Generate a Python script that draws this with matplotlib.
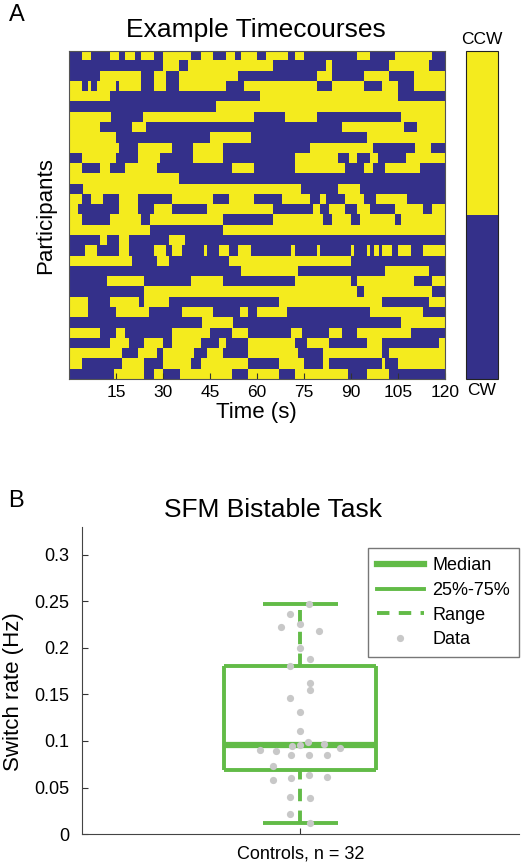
import numpy as np
import matplotlib
matplotlib.use("Agg")
import matplotlib.pyplot as plt
from matplotlib.colors import ListedColormap
from matplotlib.lines import Line2D

plt.rcParams['font.family'] = ['Liberation Sans', 'DejaVu Sans']

# --- panel A: percept per participant (1 = CCW / yellow, 0 = CW / blue) ---
start_ccw = [0, 0, 0, 1, 1, 0, 1, 1, 1, 1, 0, 1, 1, 0, 1, 1,
             1, 1, 0, 0, 1, 0, 0, 0, 1, 1, 0, 1, 0, 1, 1, 0]

# times (s) at which the percept flips, one list per participant
switch_s = [
    [4, 7, 13, 16, 18, 21, 23, 27, 30, 39, 42, 46, 50, 53, 55, 60, 63, 70, 72, 75, 92, 96, 104, 116],
    [30, 35, 38, 65, 82, 84, 102, 115],
    [10, 23, 27, 31, 35, 54, 79, 84, 94, 102, 110],
    [4, 6, 7, 9, 15, 16, 23, 27, 31, 35, 50, 56, 79, 84, 94, 100, 105, 110],
    [13, 61, 105],
    [47],
    [13.5, 23.5, 59, 69, 79, 106],
    [10, 20, 24.5, 87, 107, 111],
    [15, 45, 58, 95],
    [16, 22, 33, 39.5, 49, 77, 97, 110.5, 115.5],
    [4, 15, 22, 29, 39.5, 49, 72, 86, 89.5, 92, 96, 98.5, 107.5],
    [4, 10, 13, 18, 28, 52, 59, 72, 88, 94, 97, 101, 112],
    [35],
    [4.5, 74, 86, 93],
    [4, 7, 11, 16, 22, 33, 46, 51, 59, 68, 77, 80, 82, 88, 94, 98, 108],
    [3, 16, 22, 27, 33, 44, 65, 78, 80, 83, 88, 92, 96, 104, 113, 116],
    [4, 13, 23, 26, 49, 65, 81, 84, 90, 93, 104, 106],
    [26, 49],
    [10, 12, 16, 19, 32, 37],
    [5, 9, 16, 19, 27, 31, 33, 36, 43, 44, 48, 51, 54, 58, 71, 72, 79, 80, 90, 91,
     95, 96, 97.5, 99, 100, 103, 105, 109, 113],
    [20, 28, 32, 51, 90],
    [55, 73, 101, 115],
    [12, 24, 39, 49, 72, 90, 92, 110, 116],
    [24, 92, 94, 116],
    [6, 13, 22.5, 24, 32, 67, 100, 115],
    [6, 15, 25.5, 36, 46, 54.5, 57, 60, 69.5, 96, 113],
    [42.5, 52.5, 106],
    [10, 15, 18, 33, 45, 52, 57, 71, 74.5, 83, 87, 92, 109],
    [13, 19, 24, 30, 33, 42, 48, 50, 57, 72, 76, 83, 95, 100, 118],
    [17, 22, 28, 30, 40, 44, 49, 57, 73, 81, 100, 102],
    [4, 17, 24, 30, 39, 42, 57, 67, 75, 81, 83, 100, 101, 105],
    [14.5, 24, 27, 30, 35.5, 52, 57, 67, 72, 89, 95, 102],
]
time_ticks = [15, 30, 45, 60, 75, 90, 105, 120]

# --- panel B: switch rates ---
switch_rate = [0.2474, 0.2366, 0.2230, 0.2252, 0.2184, 0.2001, 0.1883, 0.1811,
               0.1618, 0.1547, 0.1457, 0.1314, 0.1103, 0.0992, 0.0963, 0.0949,
               0.0920, 0.0902, 0.0891, 0.0848, 0.0848, 0.0848, 0.0734, 0.0584,
               0.0601, 0.0634, 0.0616, 0.0394, 0.0383, 0.0215, 0.0118, 0.0955]
jitter = [0.041, -0.047, -0.089, 0.0, 0.084, 0.0, 0.043, -0.047,
          0.043, 0.043, -0.047, 0.0, 0.0, 0.035, 0.109, -0.040,
          0.182, -0.187, -0.113, -0.043, 0.040, 0.121, -0.124, -0.124,
          -0.043, 0.040, 0.121, -0.047, 0.043, -0.047, 0.043, 0.0]
q1, med, q3 = 0.069, 0.0952, 0.181
rng_lo, rng_hi = 0.0118, 0.2476
group_label = "Controls, n = 32"

blue = '#34308A'
yellow = '#F4EB1E'
green = '#62BB47'
grey = '#C8C8C8'

# build the participant x time matrix (0.5 s bins)
t = np.arange(0.25, 120, 0.5)
mat = np.zeros((len(switch_s), len(t)))
for i, (s0, sw) in enumerate(zip(start_ccw, switch_s)):
    n_flips = np.searchsorted(np.array(sw, dtype=float), t)
    mat[i] = (s0 + n_flips) % 2

fig = plt.figure(figsize=(5.22, 8.65), dpi=100)

ax = fig.add_axes([0.1322, 0.5618, 0.7203, 0.3792])
cmap = ListedColormap([blue, yellow])
im = ax.imshow(mat, cmap=cmap, vmin=0, vmax=1, aspect='auto',
               interpolation='nearest', extent=[0, 120, len(switch_s), 0])
ax.set_xticks(time_ticks)
ax.set_xticklabels([str(v) for v in time_ticks])
ax.set_yticks([])
ax.tick_params(axis='x', direction='in', length=4, labelsize=12.5, pad=4, color='#333333')
for sp in ax.spines.values():
    sp.set_color('#555555')
    sp.set_linewidth(0.8)
fig.text(0.491, 0.965, "Example Timecourses", ha='center', va='center', fontsize=19)
fig.text(0.492, 0.523, "Time (s)", ha='center', va='center', fontsize=16)
fig.text(0.088, 0.751, "Participants", ha='center', va='center', rotation=90, fontsize=16)
fig.text(0.033, 0.983, "A", ha='center', va='center', fontsize=17)

cax = fig.add_axes([0.8927, 0.5618, 0.0613, 0.3792])
cb = fig.colorbar(im, cax=cax, ticks=[])
cb.outline.set_linewidth(0.8)
cb.outline.set_edgecolor('#222222')
cax.text(0.5, 1.012, "CCW", transform=cax.transAxes, ha='center', va='bottom', fontsize=12.5)
cax.text(0.5, -0.012, "CW", transform=cax.transAxes, ha='center', va='top', fontsize=12.5)

# --- panel B ---
bx = fig.add_axes([0.157, 0.0358, 0.837, 0.355])
half_box = 0.348
half_cap = 0.172
box_kw = dict(color=green, lw=2.8, solid_capstyle='butt')
bx.plot([1 - half_box, 1 + half_box], [q1, q1], **box_kw)
bx.plot([1 - half_box, 1 + half_box], [q3, q3], **box_kw)
bx.plot([1 - half_box, 1 - half_box], [q1, q3], **box_kw)
bx.plot([1 + half_box, 1 + half_box], [q1, q3], **box_kw)
bx.plot([1 - half_box, 1 + half_box], [med, med], color=green, lw=4.5, solid_capstyle='butt')
bx.plot([1, 1], [q3, rng_hi], color=green, lw=2.8, ls=(0, (3.2, 2.4)))
bx.plot([1, 1], [rng_lo, q1], color=green, lw=2.8, ls=(0, (3.2, 2.4)))
bx.plot([1 - half_cap, 1 + half_cap], [rng_hi, rng_hi], **box_kw)
bx.plot([1 - half_cap, 1 + half_cap], [rng_lo, rng_lo], **box_kw)
bx.plot(1 + np.array(jitter), switch_rate, 'o', color=grey, markersize=5.2,
        markeredgewidth=0, zorder=5)

bx.set_xlim(0, 2)
bx.set_ylim(0, 0.33)
bx.set_xticks([1])
bx.set_xticklabels([group_label])
bx.set_yticks([0, 0.05, 0.1, 0.15, 0.2, 0.25, 0.3])
bx.set_yticklabels(["0", "0.05", "0.1", "0.15", "0.2", "0.25", "0.3"])
bx.tick_params(direction='in', length=4, labelsize=13, color='#333333')
bx.tick_params(axis='y', pad=9)
bx.tick_params(axis='x', pad=8)
for side in ['top', 'right']:
    bx.spines[side].set_visible(False)
for side in ['left', 'bottom']:
    bx.spines[side].set_color('#444444')
    bx.spines[side].set_linewidth(0.8)
fig.text(0.025, 0.201, "Switch rate (Hz)", ha='center', va='center', rotation=90, fontsize=16)
fig.text(0.523, 0.41, "SFM Bistable Task", ha='center', va='center', fontsize=19)
fig.text(0.031, 0.421, "B", ha='center', va='center', fontsize=17)

handles = [
    Line2D([], [], color=green, lw=4.5),
    Line2D([], [], color=green, lw=2.8),
    Line2D([], [], color=green, lw=2.8, ls=(0, (3.2, 2.4))),
    Line2D([], [], color=grey, marker='o', ls='none', markersize=5.2, markeredgewidth=0),
]
leg = bx.legend(handles, ["Median", "25%-75%", "Range", "Data"], loc='upper right',
                bbox_to_anchor=(1.0, 0.93), borderaxespad=0, fontsize=13,
                handlelength=2.6, handletextpad=0.45, labelspacing=0.42,
                fancybox=False, framealpha=1, borderpad=0.5)
leg.get_frame().set_edgecolor('#777777')
leg.get_frame().set_linewidth(1.0)

fig.savefig("out.png", dpi=100)
